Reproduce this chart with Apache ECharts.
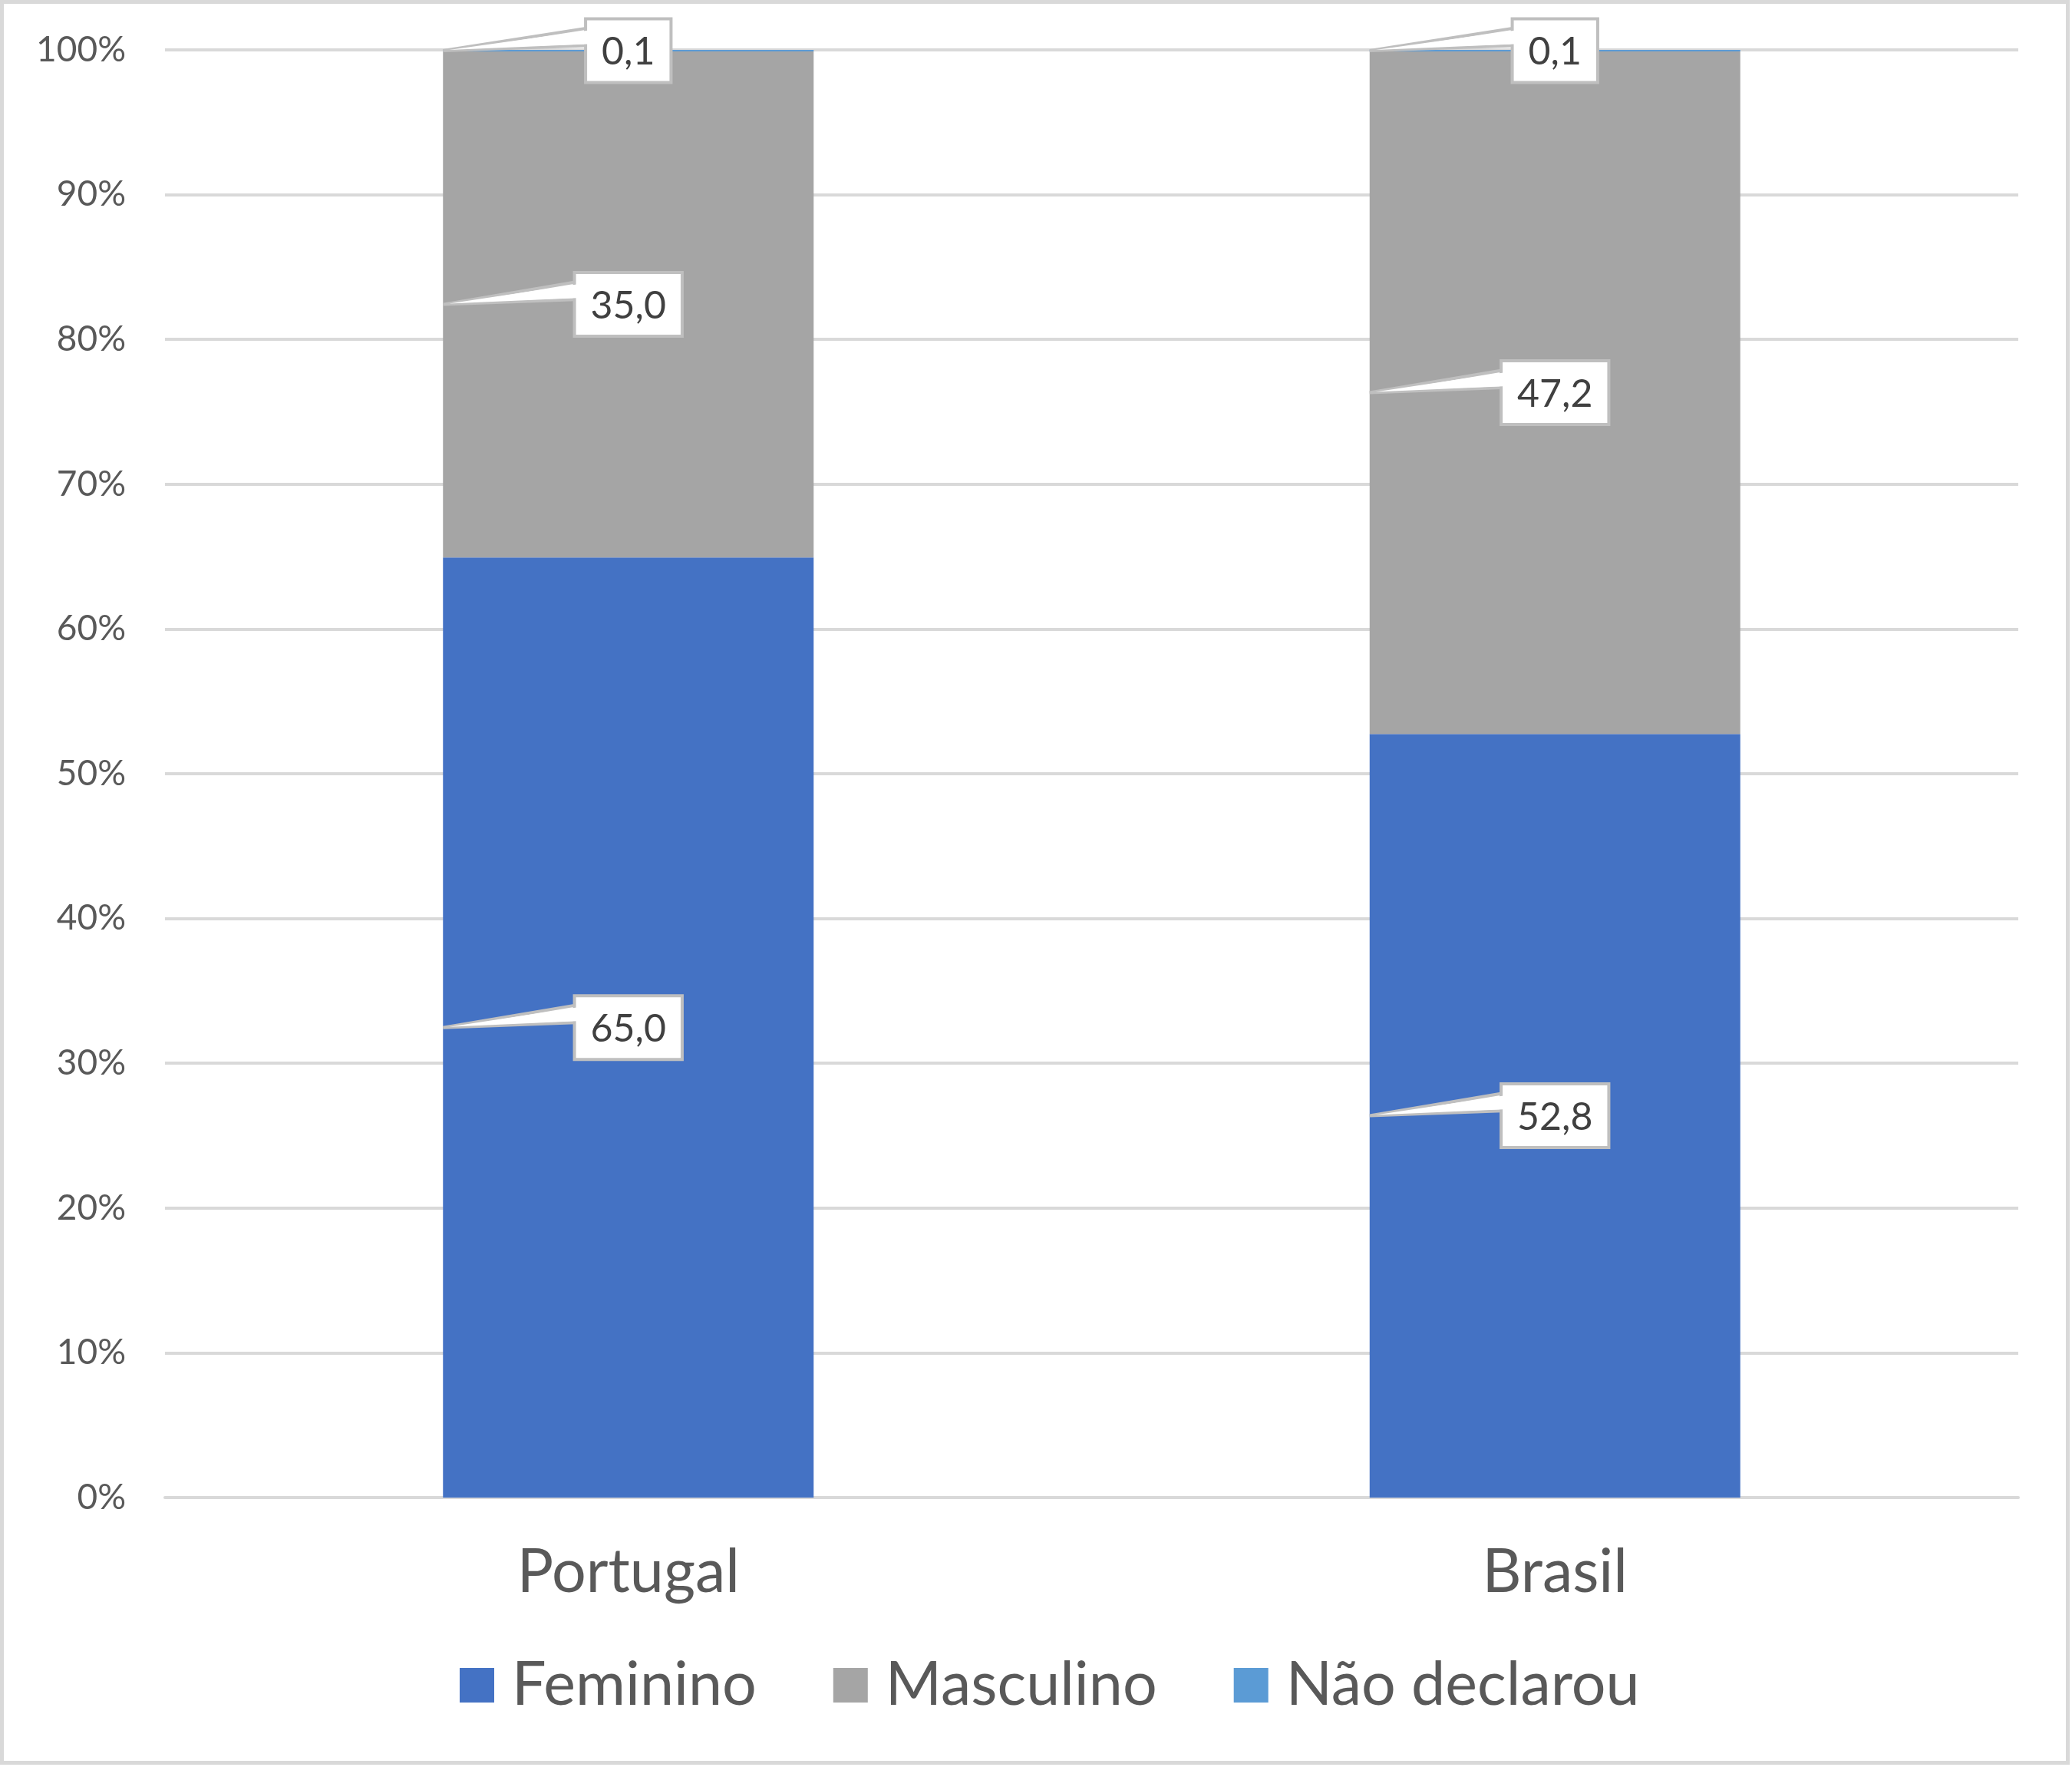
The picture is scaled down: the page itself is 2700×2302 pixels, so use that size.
<!DOCTYPE html>
<html>
<head>
<meta charset="utf-8">
<script src="https://cdn.jsdelivr.net/npm/echarts@6/dist/echarts.min.js"></script>
<style>
html,body{margin:0;padding:0;background:#fff;}
#c{width:2700px;height:2302px;}
</style>
</head>
<body>
<div id="c"></div>
<script>
var categories = ['Portugal', 'Brasil'];
var seriesNames = ['Feminino', 'Masculino', 'Não declarou'];
var feminino = [65.0, 52.8];
var masculino = [35.0, 47.2];
var naoDeclarou = [0.1, 0.1];
var yTicks = [0, 10, 20, 30, 40, 50, 60, 70, 80, 90, 100];
var colors = ['#4472C4', '#A5A5A5', '#5B9BD5'];

var FONT = 'Lato';
var raw = [feminino, masculino, naoDeclarou];
var totals = categories.map(function (c, i) {
  return raw.reduce(function (s, arr) { return s + arr[i]; }, 0);
});
var pct = raw.map(function (arr) {
  return arr.map(function (v, i) { return v / totals[i] * 100; });
});

// label anchor data: [catIndex, midPercent, rawValue]
var labelData = [];
categories.forEach(function (c, i) {
  var cum = 0;
  for (var s = 0; s < raw.length; s++) {
    var mid = cum + pct[s][i] / 2;
    cum += pct[s][i];
    labelData.push([i, mid, raw[s][i]]);
  }
});

var LABEL_SIZE = 50;
var measureCtx = document.createElement('canvas').getContext('2d');
function textW(t) {
  measureCtx.font = LABEL_SIZE + 'px ' + FONT;
  return measureCtx.measureText(t).width;
}
function fmt(v) { return v.toFixed(1).replace('.', ','); }

var barSeries = seriesNames.map(function (name, s) {
  return {
    name: name,
    type: 'bar',
    stack: 'total',
    barCategoryGap: '60%',
    itemStyle: { color: colors[s] },
    data: pct[s],
    silent: true
  };
});

var calloutSeries = {
  type: 'custom',
  name: 'labels',
  data: labelData,
  encode: { x: 0, y: 1 },
  z: 10,
  silent: true,
  clip: false,
  renderItem: function (params, api) {
    var ci = api.value(0), mid = api.value(1), v = api.value(2);
    var p = api.coord([ci, mid]);
    var band = api.size([1, 0])[0];
    var barLeft = p[0] - band * 0.4 / 2;
    var txt = fmt(v);
    var w = textW(txt) + 42;
    var h = 83;
    var bx = p[0] - w / 2, by = p[1] - h / 2;
    var wedge = [[barLeft, p[1]], [bx + 6, by + h * 0.14], [bx + 6, by + h * 0.42]];
    var stroke = '#BFBFBF';
    return {
      type: 'group',
      children: [
        { type: 'polygon', shape: { points: wedge }, style: { fill: '#fff', stroke: stroke, lineWidth: 4 } },
        { type: 'rect', shape: { x: bx, y: by, width: w, height: h }, style: { fill: '#fff', stroke: stroke, lineWidth: 4 } },
        { type: 'polygon', shape: { points: [[barLeft + 8, p[1] - 1], [bx + 8, by + h * 0.14 + 3], [bx + 8, by + h * 0.42 - 2]] }, style: { fill: '#fff' } },
        { type: 'text', style: { text: txt, x: p[0], y: p[1] + 2, align: 'center', verticalAlign: 'middle', fontSize: LABEL_SIZE, fontFamily: FONT, fill: '#404040' } }
      ]
    };
  }
};

var chart = echarts.init(document.getElementById('c'));
chart.setOption({
  animation: false,
  backgroundColor: '#fff',
  graphic: [{
    type: 'rect', silent: true,
    shape: { x: 2.5, y: 2.5, width: 2692, height: 2294 },
    style: { fill: 'none', stroke: '#D9D9D9', lineWidth: 5 }
  }],
  grid: { left: 215, right: 70, top: 65, bottom: 351 },
  legend: {
    data: seriesNames,
    left: 594,
    top: 2151,
    itemWidth: 45,
    itemHeight: 45,
    itemGap: 100,
    icon: 'rect',
    textStyle: { fontSize: 79, fontFamily: FONT, color: '#595959', padding: [0, 0, 0, 18] }
  },
  xAxis: {
    type: 'category',
    data: categories,
    axisTick: { show: false },
    axisLine: { lineStyle: { color: '#D9D9D9', width: 4 } },
    axisLabel: { fontSize: 79, fontFamily: FONT, color: '#595959', margin: 58 }
  },
  yAxis: {
    type: 'value',
    min: yTicks[0],
    max: yTicks[yTicks.length - 1],
    interval: yTicks[1] - yTicks[0],
    axisLine: { show: false },
    axisTick: { show: false },
    splitLine: { lineStyle: { color: '#D9D9D9', width: 4 } },
    axisLabel: { formatter: '{value}%', fontSize: 46, fontFamily: FONT, color: '#595959', margin: 51 }
  },
  series: barSeries.concat([calloutSeries])
});
</script>
</body>
</html>
